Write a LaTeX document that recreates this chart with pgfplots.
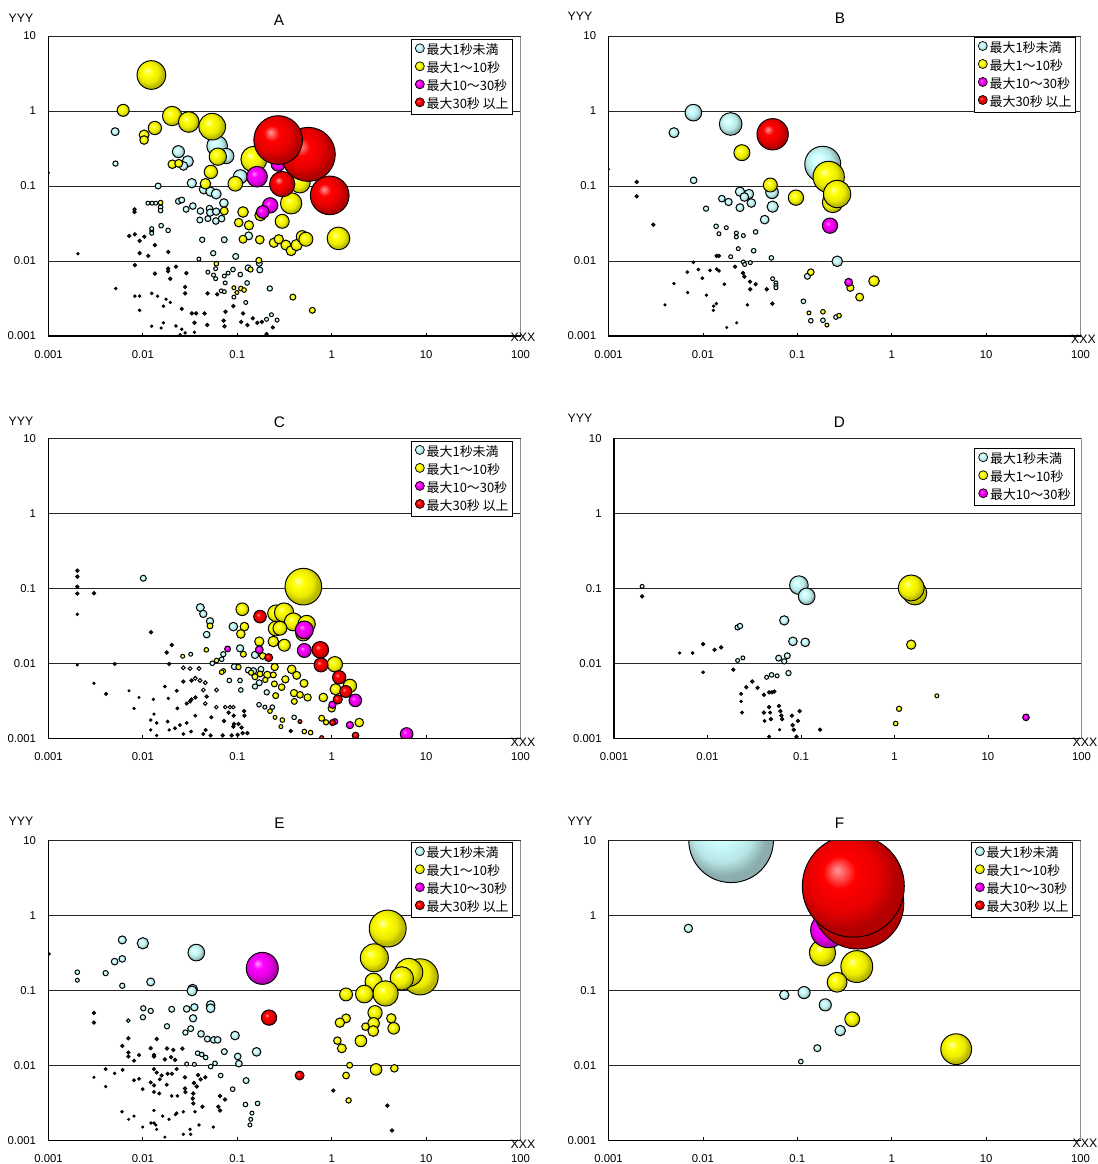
\documentclass[border=0pt]{standalone}
\usepackage{fontspec}
\setmainfont{Liberation Sans}
\newfontfamily\jpfont{Noto Sans CJK JP}
\usepackage{pgfplots}
\pgfplotsset{compat=1.18}
\definecolor{cC}{RGB}{204,255,255}
\definecolor{cY}{RGB}{255,255,0}
\definecolor{cM}{RGB}{255,0,255}
\definecolor{cR}{RGB}{255,0,0}
\pgfdeclareradialshading{shC}{\pgfpoint{-8bp}{8bp}}{color(0bp)=(cC!30!white); color(8bp)=(cC); color(18bp)=(cC!90!black); color(25bp)=(cC!68!black); color(50bp)=(cC!68!black)}
\pgfdeclareradialshading{shY}{\pgfpoint{-8bp}{8bp}}{color(0bp)=(cY!30!white); color(8bp)=(cY); color(18bp)=(cY!92!black); color(25bp)=(cY!72!black); color(50bp)=(cY!72!black)}
\pgfdeclareradialshading{shM}{\pgfpoint{-8bp}{8bp}}{color(0bp)=(cM!40!white); color(8bp)=(cM); color(18bp)=(cM!90!black); color(25bp)=(cM!70!black); color(50bp)=(cM!70!black)}
\pgfdeclareradialshading{shR}{\pgfpoint{-8bp}{8bp}}{color(0bp)=(cR!40!white); color(8bp)=(cR); color(18bp)=(cR!90!black); color(25bp)=(cR!70!black); color(50bp)=(cR!70!black)}
\newcommand\ballmark[1]{\pgfpathcircle{\pgfpointorigin}{\pgfplotmarksize}%
  \ifdim\pgfplotmarksize<1.3pt \pgfsetfillcolor{black!85}\pgfusepathqfillstroke
  \else \pgfshadepath{#1}{0}\pgfusepathqstroke \fi}
\pgfdeclareplotmark{bC}{\ballmark{shC}}
\pgfdeclareplotmark{bY}{\ballmark{shY}}
\pgfdeclareplotmark{bM}{\ballmark{shM}}
\pgfdeclareplotmark{bR}{\ballmark{shR}}
\pgfplotsset{
 bleg/.style={only marks, mark=#1, mark size=3.4pt, draw=black, line width=0.5pt,
   legend image code/.code={\draw[##1] plot coordinates {(3.4pt,1.3pt)}; \path (0pt,0pt) (8.3pt,0pt);}},
 bub/.style={scatter, only marks, mark=#1, line width=0.72pt, forget plot,
   point meta=\thisrow{r},
   scatter/use mapped color={draw=black},
   visualization depends on={\thisrow{r}+0.25\as\rr},
   scatter/@pre marker code/.append style={/tikz/mark size=\rr}},
}
\newcommand\legC{\addlegendimage{bleg=bC}\addlegendentry{最大1秒未満}}
\newcommand\legY{\addlegendimage{bleg=bY}\addlegendentry{最大1～10秒}}
\newcommand\legM{\addlegendimage{bleg=bM}\addlegendentry{最大10～30秒}}
\newcommand\legR{\addlegendimage{bleg=bR}\addlegendentry{最大30秒 以上}}
\pgfplotsset{
   xmin=0.001, xmax=100, ymin=0.001, ymax=10,
   scale only axis, width=354pt, height=225pt, anchor=south west,
   xtick={0.001,0.01,0.1,1,10,100}, xticklabels={0.001,0.01,0.1,1,10,100},
   ytick={0.001,0.01,0.1,1,10}, yticklabels={0.001,0.01,0.1,1,10},
   xminorticks=false, yminorticks=false,
   tick align=inside, xtick pos=left, ytick pos=left,
   major tick length=2.5pt, xtick style={black, line width=0.6pt}, ytick style={draw=none},
   ymajorgrids, major grid style={black!85, line width=0.6pt},
   axis line style={draw=black!45, line width=0.6pt},
   ticklabel style={font=\fontsize{8.5pt}{10pt}\selectfont},
   xticklabel style={yshift=-7.5pt}, yticklabel style={xshift=-5.8pt},
   clip marker paths=true,
   legend cell align=left,
   legend style={at={(1,1)}, anchor=north east, draw=black, line width=0.6pt,
     font=\jpfont\fontsize{9.7pt}{11pt}\selectfont, inner xsep=3pt, inner ysep=1pt,
     nodes={inner sep=0pt, text height=10.25pt, text depth=3.25pt}},
}
\begin{document}
\begin{tikzpicture}
\useasboundingbox (0,0) rectangle (823.5pt,873pt);
%%%%%%%%%%%%%%%% A
\begin{loglogaxis}[at={(36.375pt,621pt)}, legend style={xshift=-5.6pt, yshift=-2.5pt}]
\legC\legY\legM\legR
\addplot[bub=bC] table[row sep=\\]{x y r\\
0.00508 0.53 2.75\\ 0.00512 0.199 1.75\\ 0.0612 0.341 7.5\\ 0.0764 0.251 5.5\\ 0.0238 0.287 4.25\\
0.0299 0.213 4\\ 0.0269 0.185 3\\ 0.0145 0.1 2\\ 0.033 0.109 3.25\\ 0.0443 0.0903 3.25\\
0.052 0.084 3.25\\ 0.0598 0.0782 3.5\\ 0.1076 0.133 5\\ 0.0721 0.0593 3\\ 0.0154 0.052 1.5\\
0.0154 0.047 1.5\\ 0.0113 0.059 1.25\\ 0.0125 0.059 1.25\\ 0.0137 0.059 1.25\\ 0.0238 0.0625 2\\
0.0258 0.065 2\\ 0.0287 0.0489 2\\ 0.0338 0.054 2.25\\ 0.0407 0.0464 2.25\\ 0.0401 0.0352 2\\
0.0488 0.0367 2\\ 0.0508 0.0499 2.25\\ 0.0516 0.0441 2.5\\ 0.0598 0.0455 2.5\\ 0.0593 0.0341 2.25\\
0.0682 0.0367 2.25\\ 0.132 0.0216 2.75\\ 0.0425 0.0192 1.75\\ 0.0728 0.0192 2\\ 0.0556 0.0127 1.75\\
0.0962 0.0115 2\\ 0.171 0.0093 2\\ 0.13 0.0081 2\\ 0.173 0.0076 2\\ 0.09 0.0077 1.5\\
0.08 0.0069 1.25\\ 0.0728 0.0063 1.25\\ 0.1076 0.0066 1.5\\ 0.127 0.0051 1.5\\ 0.221 0.0043 1.75\\
0.0124 0.0251 1.25\\ 0.0124 0.027 1.25\\ 0.0124 0.0234 1.25\\ 0.0156 0.0296 1.5\\ 0.0185 0.0256 1.5\\
0.0392 0.0106 1.25\\ 0.059 0.0079 1.25\\ 0.0488 0.0071 1.25\\ 0.056 0.0065 1.25\\ 0.059 0.0058 1.25\\
0.0745 0.0051 1.25\\ 0.0676 0.004 1.25\\ 0.0728 0.0039 1.25\\ 0.0612 0.0036 1\\ 0.0484 0.0037 1\\
0.092 0.0033 1.25\\ 0.123 0.0028 1.25\\ 0.0908 0.0025 1\\ 0.115 0.002 1\\ 0.146 0.00172 1\\
0.163 0.0015 1\\ 0.182 0.00154 1\\ 0.204 0.00167 1.25\\ 0.23 0.00192 1.25\\ 0.264 0.00163 1.25\\
0.238 0.0013 1\\ 0.11 0.00154 1\\ 0.128 0.0014 1\\ 0.075 0.0021 1\\ 0.0716 0.0016 1\\
0.0733 0.00135 1\\ 0.204 0.00106 1\\ 0.00816 0.0489 1\\ 0.00816 0.045 1\\ 0.048 0.0014 1\\
0.045 0.002 1\\ 0.0366 0.002 1\\ 0.033 0.002 1\\ 0.0352 0.0015 1\\ 0.028 0.0045 1\\
0.028 0.0037 1\\ 0.0289 0.0069 1\\ 0.0258 0.0023 0.9\\ 0.0224 0.0084 1\\ 0.0195 0.0058 1\\
0.0185 0.0079 1\\ 0.0185 0.0073 1\\ 0.0186 0.0132 1\\ 0.0134 0.0163 1\\ 0.0134 0.0068 1\\
0.0114 0.0117 1\\ 0.00923 0.0127 1\\ 0.01035 0.0211 1\\ 0.00822 0.0227 1\\ 0.00716 0.0216 1\\
0.00923 0.0185 1\\ 0.00822 0.0088 1\\ 0.00205 0.0125 0.6\\ 0.00516 0.0043 0.6\\ 0.00822 0.0034 0.7\\
0.00923 0.0034 0.7\\ 0.00923 0.0022 0.7\\ 0.0124 0.0037 0.7\\ 0.0143 0.0034 0.6\\ 0.0176 0.0031 0.6\\
0.0195 0.0028 0.6\\ 0.0165 0.0025 0.7\\ 0.0124 0.00135 0.6\\ 0.0156 0.00128 0.6\\ 0.0165 0.0015 0.6\\
0.0224 0.00136 0.7\\ 0.0258 0.00123 0.6\\ 0.0248 0.00104 0.6\\ 0.0352 0.00112 0.6\\ 0.028 0.0011 0.6\\
0.001 0.15 0.5\\
};
\addplot[bub=bY] table[row sep=\\]{x y r\\
0.0123 3.02 10.5\\ 0.00618 1.02 4.25\\ 0.0103 0.479 3.5\\ 0.0103 0.41 3\\ 0.0134 0.593 4.75\\
0.0204 0.857 7\\ 0.0306 0.713 7.5\\ 0.0542 0.618 9.75\\ 0.0622 0.246 6.25\\ 0.0205 0.195 3\\
0.024 0.2 2.75\\ 0.0525 0.154 4.75\\ 0.046 0.107 3.75\\ 0.0953 0.107 5.25\\ 0.150 0.227 9.5\\
0.46 0.111 7.5\\ 0.372 0.0587 7.75\\ 0.115 0.045 3.75\\ 0.0727 0.0464 2.75\\ 0.0154 0.06 1.5\\
0.176 0.0407 4\\ 0.1035 0.0325 3\\ 0.133 0.0299 3.25\\ 0.299 0.0338 5\\ 0.115 0.0195 2.75\\
0.173 0.0192 3\\ 0.244 0.0175 3.25\\ 0.275 0.0195 3.25\\ 0.327 0.0163 3.5\\ 0.372 0.0137 3.5\\
0.425 0.0163 4\\ 0.488 0.0211 4.25\\ 0.533 0.0195 5\\ 1.18 0.02 8.25\\ 0.06 0.0092 1.5\\
0.169 0.0102 2\\ 0.138 0.0077 1.75\\ 0.092 0.0044 1.25\\ 0.109 0.0043 1.5\\ 0.118 0.0041 1.5\\
0.099 0.0038 1.25\\ 0.388 0.0033 2\\ 0.624 0.0022 2\\
};
\addplot[bub=bM] table[row sep=\\]{x y r\\
0.162 0.133 7.5\\ 0.271 0.195 5\\ 0.223 0.0552 5.5\\ 0.186 0.045 4.5\\
};
\addplot[bub=bR] table[row sep=\\]{x y r\\
0.565 0.264 20\\ 0.271 0.41 18\\ 0.299 0.106 9.25\\ 0.953 0.075 14.25\\
};
\end{loglogaxis}
%%%%%%%%%%%%%%%% B
\begin{loglogaxis}[at={(456.375pt,621pt)}, legend style={xshift=-3.4pt, yshift=-0.75pt}]
\legC\legY\legM\legR
\addplot[bub=bC] table[row sep=\\]{x y r\\
0.00793 0.95 6\\ 0.00494 0.514 3.5\\ 0.0197 0.671 8.25\\ 0.186 0.195 13.25\\ 0.054 0.0824 4.5\\
0.0548 0.053 4\\ 0.0451 0.0356 3\\ 0.0247 0.084 3.25\\ 0.0308 0.0782 3.25\\ 0.0275 0.0713 3\\
0.0326 0.0593 3\\ 0.0247 0.0514 2.75\\ 0.0187 0.0612 2.5\\ 0.0159 0.0678 2.25\\ 0.0108 0.0499 1.75\\
0.00798 0.119 2.25\\ 0.265 0.0099 3.75\\ 0.128 0.00625 2\\ 0.116 0.0029 1.5\\ 0.139 0.0016 1.5\\
0.187 0.00162 1.5\\ 0.257 0.00179 1.5\\
0.001 0.167 0.5\\ 0.00199 0.113 1\\ 0.00199 0.0728 1\\ 0.00298 0.0305 1\\ 0.0138 0.029 1.5\\
0.0148 0.0231 1.25\\ 0.0177 0.0278 1.25\\ 0.0226 0.0236 1.25\\ 0.0226 0.0209 1.25\\ 0.0268 0.0218 1.25\\
0.0362 0.0244 1.5\\ 0.0237 0.0146 1.25\\ 0.0345 0.0137 1.5\\ 0.014 0.0117 1\\ 0.0148 0.0117 1\\
0.0197 0.0114 1.25\\ 0.0268 0.0097 1.25\\ 0.0318 0.0095 1.25\\ 0.0277 0.009 1.25\\ 0.0531 0.011 1.5\\
0.0548 0.0058 1.25\\ 0.0594 0.0051 1.25\\ 0.0594 0.0047 1.25\\ 0.0594 0.0044 1.25\\ 0.0362 0.0049 1\\
0.0316 0.0053 1\\ 0.0318 0.0042 1\\ 0.0474 0.0042 1\\ 0.0266 0.0069 1\\ 0.0275 0.0062 1\\
0.0219 0.0084 1\\ 0.0169 0.0049 0.75\\ 0.0544 0.0027 1\\ 0.00793 0.0096 0.75\\ 0.00684 0.0071 0.75\\
0.00896 0.0077 0.75\\ 0.00987 0.0059 0.75\\ 0.0119 0.0075 0.75\\ 0.014 0.0078 0.75\\ 0.0148 0.0074 0.75\\
0.00494 0.005 0.6\\ 0.0069 0.0038 0.6\\ 0.0109 0.0035 0.6\\ 0.0139 0.0027 0.6\\ 0.013 0.0025 0.6\\
0.0129 0.0022 0.6\\ 0.0296 0.0026 0.6\\ 0.0228 0.0015 0.5\\ 0.0179 0.0013 0.5\\ 0.00397 0.0026 0.5\\
};
\addplot[bub=bY] table[row sep=\\]{x y r\\
0.0259 0.278 5.75\\ 0.215 0.132 11.5\\ 0.237 0.0606 7.5\\ 0.264 0.0782 10\\ 0.0968 0.0699 5.5\\
0.0518 0.103 5\\ 0.139 0.0071 2.25\\ 0.365 0.0044 2.5\\ 0.65 0.0054 3.75\\ 0.458 0.0033 2.75\\
0.133 0.00203 1.25\\ 0.187 0.0021 1.5\\ 0.277 0.00187 1.5\\ 0.206 0.0014 1.25\\
};
\addplot[bub=bM] table[row sep=\\]{x y r\\
0.222 0.0296 5.5\\ 0.35 0.0052 2.75\\
};
\addplot[bub=bR] table[row sep=\\]{x y r\\
0.0548 0.489 11.5\\
};
\end{loglogaxis}
%%%%%%%%%%%%%%%% C
\begin{loglogaxis}[at={(36.375pt,319.3pt)}, legend style={xshift=-5.6pt, yshift=-2pt}]
\legC\legY\legM\legR
\addplot[bub=bC] table[row sep=\\]{x y r\\
0.0101 0.136 2\\ 0.0406 0.0552 2.75\\ 0.0436 0.0455 2.5\\ 0.0514 0.0363 2.5\\ 0.0474 0.0241 2.25\\
0.0908 0.0308 3\\ 0.107 0.0158 2.5\\ 0.154 0.0129 2.5\\ 0.0711 0.0132 1.75\\ 0.0683 0.0113 1.5\\
0.0544 0.01 1.5\\ 0.0321 0.0132 1.25\\ 0.178 0.0083 2\\ 0.148 0.0079 2.25\\ 0.131 0.0081 2\\
0.171 0.0055 2\\ 0.154 0.0049 1.75\\ 0.107 0.0059 1.5\\ 0.109 0.0044 1.5\\ 0.093 0.009 2\\
0.0824 0.0059 1.5\\ 0.205 0.0041 1.75\\ 0.17 0.0028 1.5\\ 0.196 0.0026 1.25\\ 0.235 0.0026 1.5\\
0.4 0.0019 1.5\\
0.00202 0.172 1\\ 0.00202 0.143 1\\ 0.00202 0.105 1\\ 0.00202 0.085 1\\ 0.00202 0.045 0.6\\
0.00303 0.0858 1\\ 0.0122 0.0259 1\\ 0.0202 0.0175 1\\ 0.0179 0.0139 1\\ 0.019 0.0098 1\\
0.00502 0.0098 0.9\\ 0.00202 0.0095 0.5\\ 0.00303 0.0054 0.6\\ 0.00407 0.0039 0.9\\ 0.00713 0.0043 0.5\\
0.0091 0.0035 0.5\\ 0.0129 0.0033 0.6\\ 0.0171 0.0049 0.8\\ 0.0228 0.0043 0.8\\ 0.00806 0.0025 0.6\\
0.0131 0.0021 0.6\\ 0.0186 0.0034 0.6\\ 0.0232 0.0025 0.8\\ 0.0291 0.0029 0.9\\ 0.0316 0.0031 1\\
0.0359 0.002 0.8\\ 0.0458 0.0029 1.1\\ 0.0531 0.0019 0.9\\ 0.06 0.0026 1.1\\ 0.0747 0.0026 1.1\\
0.0837 0.0026 1.1\\ 0.0908 0.0026 1.1\\ 0.081 0.0022 1\\ 0.0916 0.002 1\\ 0.118 0.0023 1\\
0.119 0.002 1\\ 0.0723 0.0017 1\\ 0.0923 0.00155 1\\ 0.103 0.00155 1\\ 0.111 0.00139 1\\
0.0291 0.0016 0.8\\ 0.0247 0.0015 0.8\\ 0.0219 0.00136 0.8\\ 0.0183 0.00167 0.8\\ 0.014 0.0016 0.7\\
0.0121 0.00175 0.7\\ 0.019 0.00129 0.6\\ 0.014 0.00109 0.6\\ 0.0268 0.00114 0.7\\ 0.0324 0.00123 0.8\\
0.0462 0.00129 0.9\\ 0.0436 0.00114 0.9\\ 0.0522 0.00109 0.9\\ 0.07 0.00109 1\\ 0.0872 0.00109 1\\
0.101 0.00111 1\\ 0.114 0.00117 1\\ 0.128 0.00117 1\\ 0.0908 0.00143 1\\ 0.0121 0.00129 0.6\\
0.368 0.00125 1\\ 0.0268 0.0087 1.2\\ 0.0316 0.0085 1.2\\ 0.0393 0.0085 1.2\\ 0.0359 0.0063 1.2\\
0.0403 0.0059 1.2\\ 0.0458 0.0055 1.2\\ 0.0327 0.0059 1\\ 0.0268 0.0057 1\\ 0.0603 0.0044 1.2\\
0.0437 0.0044 1.2\\ 0.036 0.0035 1\\ 0.0474 0.0036 1\\ 0.0327 0.0033 1\\
};
\addplot[bub=bY] table[row sep=\\]{x y r\\
0.501 0.105 13.5\\ 0.113 0.0525 4.5\\ 0.257 0.0464 6\\ 0.313 0.0474 7\\ 0.393 0.0356 6.5\\
0.543 0.0334 6.25\\ 0.501 0.0251 5.5\\ 0.255 0.029 5.25\\ 0.283 0.0293 5\\ 0.171 0.0195 3.25\\
0.241 0.0195 3.75\\ 0.315 0.0174 4.25\\ 1.08 0.0097 5.5\\ 1.1 0.0045 4\\ 1.56 0.005 4.75\\
1.0 0.0025 2.5\\ 0.815 0.0035 3\\ 0.186 0.0125 2.25\\ 0.0514 0.0315 2\\ 0.119 0.0308 3\\
0.109 0.0246 3\\ 0.116 0.0132 2\\ 0.0604 0.0109 1.5\\ 0.047 0.0151 1.5\\ 0.0264 0.0124 1.25\\
0.249 0.0089 2.5\\ 0.377 0.0083 3\\ 0.426 0.0069 2.75\\ 0.323 0.0061 2.5\\ 0.509 0.0054 2.75\\
0.295 0.0048 2.25\\ 0.247 0.0053 2\\ 0.399 0.004 2.5\\ 0.462 0.0038 2.25\\ 0.556 0.0035 2.5\\
0.402 0.0031 2\\ 0.255 0.0037 2\\ 0.208 0.007 2.5\\ 0.241 0.007 2\\ 0.174 0.0072 2\\
0.154 0.0066 2\\ 0.14 0.0075 1.75\\ 0.198 0.006 1.75\\ 0.103 0.0089 1.75\\ 0.0711 0.0079 1.5\\
0.0683 0.0076 1.5\\ 0.222 0.0023 1.5\\ 0.251 0.0019 1.25\\ 0.3 0.00175 1.5\\ 0.29 0.00143 1.25\\
0.783 0.00185 2\\ 0.871 0.00163 1.75\\ 1.96 0.00162 3\\ 0.513 0.00123 1.5\\ 0.598 0.00119 1.5\\
};
\addplot[bub=bM] table[row sep=\\]{x y r\\
0.513 0.0278 6.5\\ 0.513 0.0148 5\\ 1.78 0.0032 4.5\\ 1.02 0.0028 2.5\\ 0.171 0.0151 2.75\\
0.079 0.0155 2\\ 1.56 0.0015 2.5\\ 1.08 0.00167 2\\ 6.22 0.00114 4.5\\
};
\addplot[bub=bR] table[row sep=\\]{x y r\\
0.174 0.0419 4.5\\ 0.758 0.0151 6\\ 0.771 0.0095 5\\ 1.2 0.0065 4.75\\ 1.41 0.0042 4.25\\
1.16 0.0033 3.25\\ 0.215 0.0119 2.75\\ 0.461 0.00167 1.25\\ 1.02 0.00162 2\\ 1.79 0.00109 2.25\\
0.783 0.00102 1.25\\
};
\end{loglogaxis}
%%%%%%%%%%%%%%%% D
\begin{loglogaxis}[width=350.6pt, at={(460.5pt,319.3pt)}, legend style={xshift=-4.9pt, yshift=-7.5pt}]
\legC\legY\legM
\addplot[bub=bC] table[row sep=\\]{x y r\\
0.095 0.11 6.75\\ 0.115 0.078 6\\ 0.0662 0.0373 3.25\\ 0.082 0.0196 3\\ 0.111 0.019 3\\
0.0577 0.0117 2\\ 0.0714 0.0126 2\\ 0.0662 0.0106 1.75\\ 0.021 0.0301 1.75\\ 0.0223 0.0314 1.75\\
0.0735 0.0074 1.75\\ 0.021 0.0109 1.25\\ 0.0239 0.0118 1.25\\
0.002 0.106 1.25\\ 0.002 0.078 1\\ 0.00503 0.0137 0.6\\ 0.00693 0.0137 0.75\\ 0.00898 0.018 1\\
0.0119 0.0151 1\\ 0.014 0.0163 1\\ 0.00898 0.0076 0.75\\ 0.0189 0.0082 1\\ 0.026 0.0048 1\\
0.0301 0.0057 1\\ 0.0343 0.0047 1\\ 0.0401 0.0038 1\\ 0.0429 0.0065 1.25\\ 0.0485 0.007 1.5\\
0.0556 0.0068 1.25\\ 0.0229 0.0039 0.8\\ 0.0229 0.0031 0.6\\ 0.0234 0.0022 0.8\\ 0.0401 0.0022 1\\
0.0408 0.0017 0.8\\ 0.0456 0.0026 1\\ 0.0468 0.0022 0.8\\ 0.0476 0.0018 1\\ 0.0456 0.00105 0.8\\
0.0581 0.0027 1\\ 0.0601 0.0023 1\\ 0.0617 0.002 1\\ 0.0628 0.0018 1\\ 0.0591 0.0013 0.6\\
0.08 0.002 1\\ 0.0814 0.0015 1\\ 0.0836 0.0013 1\\ 0.0927 0.0017 1\\ 0.0968 0.0023 1\\
0.0895 0.00105 1\\ 0.16 0.0013 1\\ 0.0456 0.0041 1\\ 0.0489 0.0041 1\\ 0.0519 0.0042 1\\
};
\addplot[bub=bY] table[row sep=\\]{x y r\\
1.65 0.0867 8.75\\ 1.51 0.101 9.5\\ 1.51 0.0177 3.25\\ 1.12 0.00247 1.75\\ 1.03 0.00157 1.5\\
2.84 0.00368 1.25\\
};
\addplot[bub=bM] table[row sep=\\]{x y r\\
25.5 0.0019 2.25\\
};
\end{loglogaxis}
%%%%%%%%%%%%%%%% E
\begin{loglogaxis}[at={(36.375pt,17.8pt)}, legend style={xshift=-5.6pt, yshift=-1.5pt}]
\legC\legY\legM\legR
\addplot[bub=bC] table[row sep=\\]{x y r\\
0.00605 0.469 2.75\\ 0.01 0.423 4\\ 0.0368 0.318 6\\ 0.00502 0.241 2.25\\ 0.00605 0.262 2.25\\
0.00202 0.174 1.5\\ 0.00202 0.136 1.25\\ 0.00403 0.169 1.75\\ 0.00605 0.115 1.75\\ 0.0121 0.129 2.75\\
0.0336 0.103 3.5\\ 0.0331 0.098 3.5\\ 0.0101 0.0575 1.75\\ 0.0121 0.053 1.75\\ 0.01 0.0436 1.75\\
0.0202 0.0558 2\\ 0.0291 0.0564 2.25\\ 0.0351 0.0593 2.5\\ 0.0522 0.0637 3\\ 0.0522 0.0575 3\\
0.034 0.0423 2.5\\ 0.018 0.0331 1.75\\ 0.0282 0.0273 1.75\\ 0.0321 0.0308 2\\ 0.0413 0.0262 2.25\\
0.0482 0.0224 2\\ 0.0563 0.0218 2.25\\ 0.062 0.0218 2.25\\ 0.0946 0.0249 3\\ 0.0729 0.0152 2\\
0.16 0.0151 3\\ 0.101 0.0131 2.25\\ 0.104 0.0105 2.25\\ 0.038 0.0145 1.5\\ 0.042 0.0139 1.5\\
0.0462 0.0127 1.5\\ 0.0522 0.0096 1.5\\ 0.058 0.0106 1.5\\ 0.0291 0.0104 1.25\\ 0.0351 0.0103 1.25\\
0.0667 0.0073 1.5\\ 0.124 0.00625 2\\ 0.0893 0.0048 1.5\\ 0.122 0.003 1.5\\ 0.164 0.0031 1.5\\
0.143 0.0023 1.25\\ 0.139 0.0019 1.25\\ 0.136 0.0016 1.25\\ 0.00102 0.305 0.5\\
0.0741 0.0035 1\\ 0.0656 0.0039 1\\ 0.063 0.0028 1\\ 0.0656 0.0025 1\\ 0.00303 0.0499 1\\
0.00303 0.0371 1\\ 0.00701 0.0394 1.1\\ 0.014 0.0224 1\\ 0.00701 0.0229 1\\ 0.00605 0.0181 1\\
0.00701 0.0148 0.9\\ 0.00701 0.0131 0.9\\ 0.0091 0.0137 0.9\\ 0.00805 0.0115 0.9\\ 0.0121 0.0169 1\\
0.0131 0.0131 1\\ 0.0131 0.0137 1\\ 0.018 0.0167 1\\ 0.021 0.016 1\\ 0.0262 0.0167 1\\
0.0171 0.012 1\\ 0.0199 0.0128 1\\ 0.0219 0.0118 1\\ 0.00403 0.0089 0.8\\ 0.00502 0.0078 0.6\\
0.0061 0.0087 0.8\\ 0.00303 0.0069 0.5\\ 0.00403 0.0052 0.6\\ 0.00805 0.0063 0.8\\ 0.0091 0.0066 0.8\\
0.0131 0.0089 0.9\\ 0.014 0.008 0.9\\ 0.0121 0.0059 0.9\\ 0.0131 0.0054 0.9\\ 0.0158 0.0073 0.9\\
0.0151 0.0065 0.8\\ 0.0183 0.0077 0.9\\ 0.0203 0.0077 0.9\\ 0.0228 0.0089 0.9\\ 0.0279 0.0069 1\\
0.0384 0.0074 1\\ 0.0409 0.0065 1\\ 0.0348 0.0058 1\\ 0.0458 0.0069 1\\ 0.0279 0.0049 1\\
0.0282 0.0044 1\\ 0.0342 0.0042 1\\ 0.0337 0.0036 1\\ 0.0342 0.0031 1\\ 0.0427 0.0028 1\\
0.0131 0.0044 0.8\\ 0.00995 0.0048 0.8\\ 0.0149 0.0042 0.8\\ 0.0202 0.0039 0.7\\ 0.0232 0.0039 0.7\\
0.0372 0.0052 1\\ 0.0179 0.0055 0.8\\ 0.00601 0.0024 0.6\\ 0.00707 0.0019 0.5\\ 0.00805 0.0021 0.5\\
0.0131 0.0025 0.6\\ 0.0122 0.0017 0.6\\ 0.0131 0.0017 0.6\\ 0.0137 0.0016 0.6\\ 0.0162 0.0021 0.6\\
0.0189 0.0019 0.6\\ 0.0228 0.0023 0.7\\ 0.0268 0.0024 0.6\\ 0.0356 0.0024 0.6\\ 0.0557 0.0015 0.6\\
0.0393 0.0016 0.7\\ 0.0316 0.0014 0.6\\ 0.0268 0.0012 0.6\\ 0.0321 0.0012 0.6\\ 0.00995 0.0015 0.5\\
0.014 0.0014 0.5\\ 0.0171 0.0011 0.5\\ 0.0221 0.0022 0.6\\ 1.04 0.0046 1\\ 3.89 0.0029 1\\
};
\addplot[bub=bY] table[row sep=\\]{x y r\\
3.92 0.665 13.6\\ 2.83 0.271 10.25\\ 8.65 0.151 13.3\\ 6.56 0.173 10.25\\ 5.53 0.144 8.5\\
2.78 0.13 6.2\\ 3.72 0.0907 9.25\\ 2.22 0.089 6.4\\ 1.42 0.088 4.6\\ 2.88 0.0502 5.1\\
2.78 0.0362 4.1\\ 2.76 0.0286 3.8\\ 2.28 0.0327 2.6\\ 4.28 0.0422 3.3\\ 4.54 0.0311 4.1\\
1.42 0.0422 3.1\\ 1.22 0.037 3.3\\ 2.04 0.0211 4.1\\ 1.15 0.0213 2.6\\ 1.28 0.0168 3.1\\
1.55 0.01 2\\ 1.42 0.0073 2.3\\ 2.95 0.0088 4.1\\ 4.61 0.0091 2.6\\ 1.51 0.0034 1.8\\
4.35 0.00135 1\\
};
\addplot[bub=bM] table[row sep=\\]{x y r\\
0.184 0.196 11.75\\
};
\addplot[bub=bR] table[row sep=\\]{x y r\\
0.217 0.0432 5.5\\ 0.457 0.0073 3.1\\
};
\end{loglogaxis}
%%%%%%%%%%%%%%%% F
\begin{loglogaxis}[at={(456.375pt,17.8pt)}, legend style={xshift=-5.6pt, yshift=-1.5pt}]
\legC\legY\legM\legR
\addplot[bub=bC] table[row sep=\\]{x y r\\
0.0199 10 31.5\\ 0.165 0.327 6\\ 0.00702 0.668 2.9\\ 0.0728 0.0867 3.3\\ 0.118 0.0931 4.3\\
0.198 0.0638 4.3\\ 0.285 0.029 3.7\\ 0.163 0.0169 2.4\\ 0.109 0.0112 1.5\\
};
\addplot[bub=bY] table[row sep=\\]{x y r\\
0.185 0.316 9.6\\ 0.427 0.207 11.7\\ 0.264 0.128 7.2\\ 0.382 0.0411 5.3\\ 4.82 0.0164 11.3\\
};
\addplot[bub=bM] table[row sep=\\]{x y r\\
0.213 0.635 13\\
};
\addplot[bub=bR] table[row sep=\\]{x y r\\
0.441 1.44 34\\ 0.392 2.44 38\\
};
\end{loglogaxis}
%%%%%%%%%%%%%%%% frame lines and labels
\begin{scope}[line width=0.6pt, black!85]
\draw (36.375pt,846pt) -- (390.375pt,846pt);
\draw (456.375pt,846pt) -- (810.375pt,846pt);
\draw (36.375pt,544.3pt) -- (390.375pt,544.3pt);
\draw (460.5pt,544.3pt) -- (811.1pt,544.3pt);
\draw (36.375pt,242.8pt) -- (390.375pt,242.8pt);
\draw (456.375pt,242.8pt) -- (810.375pt,242.8pt);
\end{scope}
\begin{scope}[line width=1.1pt, black]
\draw (36.375pt,846pt) -- (36.375pt,621pt) -- (390.375pt,621pt);
\draw (456.375pt,846pt) -- (456.375pt,621pt) -- (810.375pt,621pt);
\draw (36.375pt,544.3pt) -- (36.375pt,319.3pt) -- (390.375pt,319.3pt);
\draw (460.5pt,544.3pt) -- (460.5pt,319.3pt) -- (811.1pt,319.3pt);
\draw (36.375pt,242.8pt) -- (36.375pt,17.8pt) -- (390.375pt,17.8pt);
\draw (456.375pt,242.8pt) -- (456.375pt,17.8pt) -- (810.375pt,17.8pt);
\end{scope}
\begin{scope}[every node/.style={inner sep=0pt, font=\fontsize{11.5pt}{13pt}\selectfont}]
\node at (209.25pt,857.6pt) {A};
\node at (630pt,859.5pt) {B};
\node at (209.6pt,556.1pt) {C};
\node at (629.6pt,556.5pt) {D};
\node at (209.6pt,255.4pt) {E};
\node at (629.6pt,255.4pt) {F};
\end{scope}
\begin{scope}[every node/.style={inner sep=0pt, font=\fontsize{9.2pt}{11pt}\selectfont}]
\node at (15.75pt,859.5pt) {YYY};
\node at (435pt,861pt) {YYY};
\node at (15.75pt,556.9pt) {YYY};
\node at (435pt,559.5pt) {YYY};
\node at (15.75pt,256.9pt) {YYY};
\node at (435pt,256.9pt) {YYY};
\node at (392.25pt,620.25pt) {XXX};
\node at (812.6pt,618.75pt) {XXX};
\node at (392.25pt,316.1pt) {XXX};
\node at (813.75pt,316.1pt) {XXX};
\node at (392.25pt,15pt) {XXX};
\node at (813.75pt,15.75pt) {XXX};
\end{scope}
\end{tikzpicture}
\end{document}
